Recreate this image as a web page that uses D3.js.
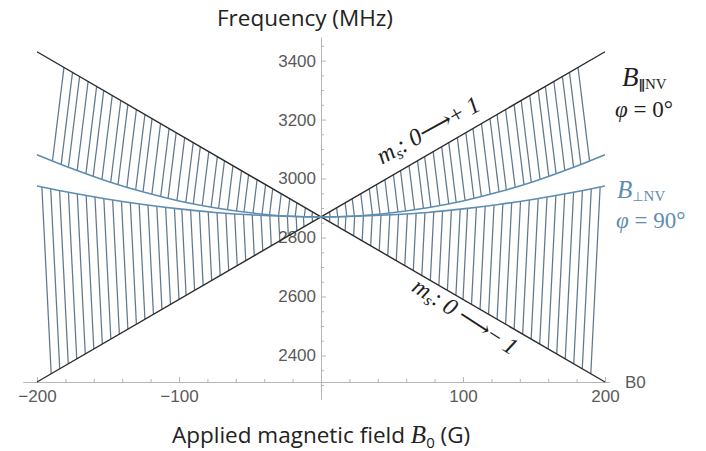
<!DOCTYPE html>
<html>
<head>
<meta charset="utf-8">
<script src="https://cdn.jsdelivr.net/npm/d3@7"></script>
<style>
    body { margin: 0; background: #ffffff; }
    svg { display: block; }
</style>
</head>
<body>
<svg id="chart"></svg>
<script>
// Field values (G) where the perpendicular curves were read
let fieldB = [-200, -175, -150, -125, -100, -75, -50, -25, 0, 25, 50, 75, 100, 125, 150, 175, 200];

// Perpendicular field (phi = 90°): upper and lower branch (MHz)
let perpUpper = [3081, 3033, 2990, 2954, 2924, 2901, 2884, 2873, 2870, 2873, 2884, 2901, 2924, 2954, 2990, 3033, 3081];
let perpLower = [2975, 2951, 2930, 2912, 2897, 2885, 2877, 2872, 2870, 2872, 2877, 2885, 2897, 2912, 2930, 2951, 2975];

// Parallel field (phi = 0°): the two straight transitions (MHz)
let parB = [-200, 0, 200];
let parPlus = [2310, 2870, 3430];   // ms: 0 -> +1
let parMinus = [3430, 2870, 2310];  // ms: 0 -> -1

// Where the hatch lines (intermediate angles) meet the black lines, |B| in G
let hatchUpperB = [181, 175, 170, 164, 158, 153, 147, 141, 136, 130, 124, 119, 113, 107, 102, 96,
                   90, 85, 79, 73, 68, 62, 56, 51, 45, 39, 34, 28, 22, 17, 11, 6];
let hatchLowerB = [190, 184, 178, 172, 166, 160, 154, 148, 142, 136, 130, 124, 118, 112, 106, 100,
                   95, 89, 83, 77, 71, 65, 59, 53, 47, 41, 35, 29, 23, 17, 12, 6];

// Tick labels
let yTicks = [2400, 2600, 2800, 3000, 3200, 3400];
let xTicks = [-200, -100, 100, 200];

// SVG size
let width = 706, height = 451;
let svg = d3.select('#chart').attr('width', width).attr('height', height);

// Scales
let xScale = d3.scaleLinear().domain([-200, 200]).range([37, 605]);
let yScale = d3.scaleLinear().domain([2310, 3480]).range([382, 37]);

// Envelopes of the parallel lines (top V and bottom V)
let envTop = d3.scaleLinear().domain(parB).range(parB.map((b, i) => Math.max(parPlus[i], parMinus[i])));
let envBottom = d3.scaleLinear().domain(parB).range(parB.map((b, i) => Math.min(parPlus[i], parMinus[i])));

let tickFont = 'Liberation Sans, Arial, sans-serif';
let labelFont = 'Open Sans, Noto Sans, sans-serif';
let mathFont = 'Liberation Serif, DejaVu Serif, serif';

// ---------- Axes ----------
function drawAxes() {
    // y axis (ticks point right, labels left)
    let yAxisScale = yScale.copy().domain([2250, 3480]).range([yScale(2250), yScale(3480)]);
    let yMinor = d3.range(2300, 3451, 50).filter(v => v % 200 !== 0);

    svg.append('g')
        .attr('transform', `translate(${xScale(0)},0)`)
        .call(d3.axisLeft(yAxisScale).tickValues(yMinor).tickSize(-3).tickFormat(''))
        .call(g => g.select('.domain').remove())
        .call(g => g.selectAll('line').attr('stroke', '#b5b5b5'));

    svg.append('g')
        .attr('id', 'y-axis')
        .attr('transform', `translate(${xScale(0)},0)`)
        .call(d3.axisLeft(yAxisScale).tickValues(yTicks).tickSize(-5).tickPadding(5).tickSizeOuter(0).tickFormat(d3.format('d')))
        .call(g => g.select('.domain').attr('stroke', '#b5b5b5'))
        .call(g => g.selectAll('line').attr('stroke', '#b5b5b5'))
        .call(g => g.selectAll('text')
            .attr('font-family', tickFont).attr('font-size', 17).attr('fill', '#5a5a5a'));

    // x axis (ticks point up)
    let xAxisScale = xScale.copy().domain([-210, 203]).range([xScale(-210), xScale(203)]);
    let xMinor = d3.range(-200, 201, 20).filter(v => v % 100 !== 0);

    svg.append('g')
        .attr('transform', `translate(0,${yScale(2310)})`)
        .call(d3.axisBottom(xAxisScale).tickValues(xMinor).tickSize(-3).tickFormat(''))
        .call(g => g.select('.domain').remove())
        .call(g => g.selectAll('line').attr('stroke', '#b5b5b5'));

    svg.append('g')
        .attr('id', 'x-axis')
        .attr('transform', `translate(0,${yScale(2310)})`)
        .call(d3.axisBottom(xAxisScale).tickValues(xTicks).tickSize(-5).tickPadding(8).tickSizeOuter(0))
        .call(g => g.select('.domain').attr('stroke', '#b5b5b5'))
        .call(g => g.selectAll('line').attr('stroke', '#b5b5b5'))
        .call(g => g.selectAll('text')
            .attr('font-family', tickFont).attr('font-size', 17).attr('fill', '#5a5a5a'));

    svg.append('text')
        .attr('x', 625).attr('y', yScale(2310)).attr('dy', '0.35em')
        .attr('font-family', tickFont).attr('font-size', 17).attr('fill', '#5a5a5a')
        .text('B0');
}

// ---------- Clip regions ----------
function makeClips() {
    let defs = svg.append('defs');
    let lowF = 2200, highF = 3600;

    // below the top V
    defs.append('clipPath').attr('id', 'under-top')
        .append('path')
        .attr('d', d3.line()
            .x(d => xScale(d[0])).y(d => yScale(d[1]))(
                parB.map(b => [b, envTop(b)]).concat([[200, lowF], [-200, lowF]])) + 'Z');

    // above the upper perpendicular curve
    defs.append('clipPath').attr('id', 'above-perp')
        .append('path')
        .attr('d', d3.area()
            .x((d, i) => xScale(fieldB[i]))
            .y0(d => yScale(d))
            .y1(yScale(highF))
            .curve(d3.curveMonotoneX)(perpUpper));

    // above the bottom V
    defs.append('clipPath').attr('id', 'over-bottom')
        .append('path')
        .attr('d', d3.line()
            .x(d => xScale(d[0])).y(d => yScale(d[1]))(
                parB.map(b => [b, envBottom(b)]).concat([[200, highF], [-200, highF]])) + 'Z');

    // below the lower perpendicular curve
    defs.append('clipPath').attr('id', 'below-perp')
        .append('path')
        .attr('d', d3.area()
            .x((d, i) => xScale(fieldB[i]))
            .y0(d => yScale(d))
            .y1(yScale(lowF))
            .curve(d3.curveMonotoneX)(perpLower));
}

// ---------- Hatch lines ----------
function drawHatch() {
    let hatchColor = '#62778d';
    let upper = hatchUpperB.map(b => -b).concat(hatchUpperB);
    let lower = hatchLowerB.map(b => -b).concat(hatchLowerB);

    // upper region: from the black line down to the blue curve, leaning outward
    let gUp = svg.append('g').attr('clip-path', 'url(#under-top)')
        .append('g').attr('clip-path', 'url(#above-perp)');
    gUp.selectAll('line')
        .data(upper)
        .enter()
        .append('line')
        .attr('x1', b => xScale(b) - Math.sign(b) * 0.123 * 8)
        .attr('y1', b => yScale(envTop(b)) - 8)
        .attr('x2', b => xScale(b) + Math.sign(b) * 0.123 * 220)
        .attr('y2', b => yScale(envTop(b)) + 220)
        .attr('stroke', hatchColor)
        .attr('stroke-width', 1.25);

    // lower region: from the black line up to the blue curve, leaning outward
    let gLow = svg.append('g').attr('clip-path', 'url(#over-bottom)')
        .append('g').attr('clip-path', 'url(#below-perp)');
    gLow.selectAll('line')
        .data(lower)
        .enter()
        .append('line')
        .attr('x1', b => xScale(b) - Math.sign(b) * 0.05 * 8)
        .attr('y1', b => yScale(envBottom(b)) + 8)
        .attr('x2', b => xScale(b) + Math.sign(b) * 0.05 * 260)
        .attr('y2', b => yScale(envBottom(b)) - 260)
        .attr('stroke', hatchColor)
        .attr('stroke-width', 1.25);
}

// ---------- Curves ----------
function drawCurves() {
    let parLine = d3.line().x((d, i) => xScale(parB[i])).y(d => yScale(d));
    [parPlus, parMinus].forEach(s => {
        svg.append('path')
            .attr('d', parLine(s))
            .attr('fill', 'none')
            .attr('stroke', '#2a2a2a')
            .attr('stroke-width', 1.4);
    });

    let perpLine = d3.line().x((d, i) => xScale(fieldB[i])).y(d => yScale(d)).curve(d3.curveMonotoneX);
    [perpUpper, perpLower].forEach(s => {
        svg.append('path')
            .attr('d', perpLine(s))
            .attr('fill', 'none')
            .attr('stroke', '#5e8db0')
            .attr('stroke-width', 1.6);
    });
}

// ---------- Labels ----------
function drawLabels() {
    svg.append('text')
        .attr('x', 217).attr('y', 26)
        .attr('font-family', labelFont).attr('font-size', 22.5).attr('fill', '#222')
        .text('Frequency (MHz)');

    let xl = svg.append('text')
        .attr('x', 172).attr('y', 443)
        .attr('font-family', labelFont).attr('font-size', 22.5).attr('fill', '#222');
    xl.append('tspan').text('Applied magnetic field ');
    xl.append('tspan').attr('font-family', mathFont).attr('font-style', 'italic').attr('font-size', 25).text('B');
    xl.append('tspan').attr('font-size', 15).attr('dy', 5).text('0');
    xl.append('tspan').attr('dy', -5).text(' (G)');

    // right side labels
    let bPar = svg.append('text').attr('x', 622).attr('y', 86)
        .attr('font-family', mathFont).attr('fill', '#1e1e1e');
    bPar.append('tspan').attr('font-style', 'italic').attr('font-size', 27).text('B');
    bPar.append('tspan').attr('font-family', 'DejaVu Sans').attr('font-weight', 'bold').attr('font-size', 13).attr('dy', 3).text('\u2225');
    bPar.append('tspan').attr('font-size', 15).text('NV');

    svg.append('text').attr('x', 615).attr('y', 117)
        .attr('font-family', mathFont).attr('font-size', 23).attr('fill', '#1e1e1e')
        .html('<tspan font-style="italic">\u03c6</tspan> = 0\u00b0');

    let bPerp = svg.append('text').attr('x', 617).attr('y', 198)
        .attr('font-family', mathFont).attr('fill', '#5e8db0');
    bPerp.append('tspan').attr('font-style', 'italic').attr('font-size', 25).text('B');
    bPerp.append('tspan').attr('font-family', 'DejaVu Sans').attr('font-size', 13).attr('dy', 3).text('\u22a5');
    bPerp.append('tspan').attr('font-size', 15).text('NV');

    svg.append('text').attr('x', 616).attr('y', 228)
        .attr('font-family', mathFont).attr('font-size', 23).attr('fill', '#5e8db0')
        .html('<tspan font-style="italic">\u03c6</tspan> = 90\u00b0');

    // transition labels along the black lines
    let up = svg.append('text')
        .attr('transform', 'translate(432,137) rotate(-29)')
        .attr('text-anchor', 'middle')
        .attr('font-family', mathFont).attr('font-size', 24).attr('fill', '#1e1e1e');
    up.append('tspan').attr('font-style', 'italic').text('m');
    up.append('tspan').attr('font-style', 'italic').attr('font-size', 16).attr('dy', 4).text('s');
    up.append('tspan').attr('dy', -4).html(': <tspan font-style="italic">0</tspan>\u27f6+ <tspan font-style="italic">1</tspan>');

    let down = svg.append('text')
        .attr('transform', 'translate(461,323) rotate(33)')
        .attr('text-anchor', 'middle')
        .attr('font-family', mathFont).attr('font-size', 24).attr('fill', '#1e1e1e');
    down.append('tspan').attr('font-style', 'italic').text('m');
    down.append('tspan').attr('font-style', 'italic').attr('font-size', 16).attr('dy', 4).text('s');
    down.append('tspan').attr('dy', -4).html(': <tspan font-style="italic">0</tspan> \u27f6\u2212 <tspan font-style="italic">1</tspan>');
}

drawAxes();
makeClips();
drawHatch();
drawCurves();
drawLabels();
</script>
</body>
</html>
